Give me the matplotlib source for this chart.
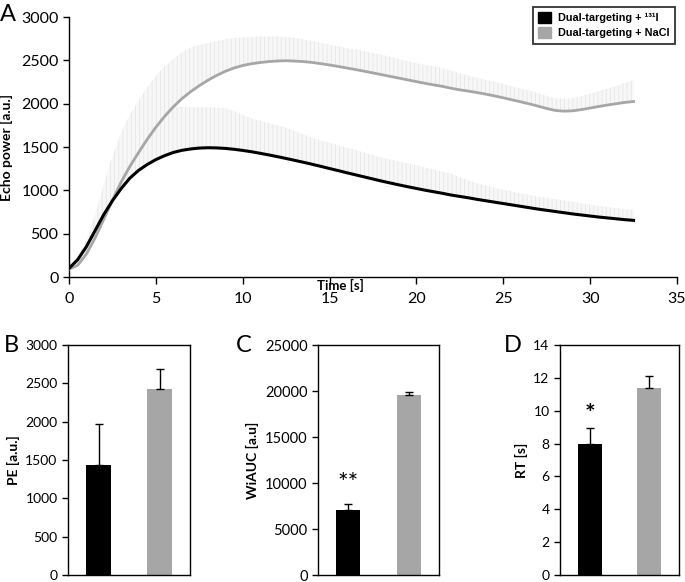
import numpy as np
import matplotlib
matplotlib.use("Agg")
import matplotlib.pyplot as plt
from matplotlib.patches import Patch

plt.rcParams['font.family'] = ['Lato', 'DejaVu Sans']
plt.rcParams['hatch.linewidth'] = 0.6

# ---------------- data ----------------
time_s = [0.0, 0.5, 1.0, 1.5, 2.0, 2.5, 3.0, 3.5, 4.0, 4.5, 5.0, 5.5, 6.0, 6.5, 7.0, 7.5,
          8.0, 8.5, 9.0, 9.5, 10.0, 10.5, 11.0, 11.5, 12.0, 12.5, 13.0, 13.5, 14.0, 14.5,
          15.0, 15.5, 16.0, 16.5, 17.0, 17.5, 18.0, 18.5, 19.0, 19.5, 20.0, 20.5, 21.0,
          21.5, 22.0, 22.5, 23.0, 23.5, 24.0, 24.5, 25.0, 25.5, 26.0, 26.5, 27.0, 27.5,
          28.0, 28.5, 29.0, 29.5, 30.0, 30.5, 31.0, 31.5, 32.0, 32.5]

echo_131I = [100, 200, 350, 535, 720, 880, 1020, 1140, 1230, 1298, 1355, 1400, 1437, 1462,
             1478, 1488, 1492, 1490, 1484, 1474, 1461, 1446, 1428, 1409, 1389, 1368, 1346,
             1324, 1301, 1277, 1252, 1228, 1203, 1179, 1155, 1131, 1107, 1085, 1063, 1042,
             1022, 1002, 984, 966, 946, 930, 914, 896, 880, 864, 848, 832, 816, 800, 784,
             770, 756, 742, 728, 716, 704, 692, 682, 672, 662, 654]
err_131I = [10, 40, 80, 130, 180, 240, 300, 360, 420, 480, 530, 540, 530, 500, 480, 470,
            465, 465, 465, 440, 410, 385, 375, 365, 360, 355, 340, 320, 305, 300, 295, 292,
            290, 285, 280, 275, 270, 270, 270, 270, 268, 262, 255, 250, 245, 225, 200, 185,
            175, 168, 160, 155, 150, 147, 145, 143, 142, 141, 140, 135, 130, 127, 125, 123,
            121, 120]

echo_NaCl = [90, 135, 265, 450, 665, 885, 1095, 1275, 1435, 1588, 1728, 1853, 1963, 2058,
             2138, 2208, 2271, 2326, 2374, 2412, 2441, 2461, 2475, 2486, 2493, 2496, 2492,
             2486, 2476, 2462, 2447, 2430, 2412, 2394, 2375, 2355, 2335, 2315, 2295, 2275,
             2255, 2235, 2217, 2200, 2178, 2160, 2145, 2128, 2110, 2090, 2068, 2045, 2022,
             1998, 1972, 1945, 1922, 1914, 1918, 1932, 1950, 1968, 1985, 2000, 2015, 2025]
err_NaCl = [10, 60, 150, 270, 400, 510, 570, 595, 600, 600, 590, 575, 550, 535, 510, 470,
            430, 395, 370, 345, 325, 310, 300, 290, 280, 275, 265, 255, 248, 240, 235, 232,
            230, 230, 230, 230, 230, 225, 220, 215, 212, 212, 215, 212, 205, 190, 178, 172,
            165, 160, 157, 155, 155, 153, 152, 145, 140, 140, 145, 155, 165, 178, 190, 205,
            225, 250]

groups = ["Dual-targeting + ¹³¹I", "Dual-targeting + NaCl"]
pe_values = [1430, 2420]
pe_err = [535, 265]
wiauc_values = [7100, 19600]
wiauc_err = [600, 300]
rt_values = [7.95, 11.4]
rt_err = [1.0, 0.7]

c_black = "black"
c_gray = "#a6a6a6"

fig = plt.figure(figsize=(6.85, 5.82), dpi=100)

# ---------------- panel A ----------------
axA = fig.add_axes([0.1007, 0.524, 0.8876, 0.4467])
t = np.array(time_s)
for mean, err in [(echo_NaCl, err_NaCl), (echo_131I, err_131I)]:
    m = np.array(mean)
    e = np.array(err)
    axA.fill_between(t, m, m + e, facecolor="#f7f7f7", edgecolor="#e6e6e6",
                     hatch="||||", linewidth=0, zorder=1)
axA.plot(t, echo_NaCl, color=c_gray, lw=2.0, zorder=3)
axA.plot(t, echo_131I, color=c_black, lw=2.2, zorder=4)
axA.set_xlim(0, 35)
axA.set_ylim(0, 3000)
axA.set_xticks(range(0, 36, 5))
axA.set_yticks(range(0, 3001, 500))
for s in ["top", "right"]:
    axA.spines[s].set_visible(False)
for s in ["left", "bottom"]:
    axA.spines[s].set_linewidth(1.0)
axA.tick_params(labelsize=11.5, width=1.0, length=4, direction="out")
axA.tick_params(axis="x", length=5, pad=6)
axA.set_xlabel("Time [s]", fontsize=9.5, fontweight="bold")
axA.xaxis.set_label_coords(0.447, -0.006)
axA.set_ylabel("Echo power [a.u.]", fontsize=10, fontweight="bold", labelpad=6)

handles = [Patch(facecolor=c_black, edgecolor=c_black), Patch(facecolor=c_gray, edgecolor=c_gray)]
leg = fig.legend(handles, groups, loc="upper right", bbox_to_anchor=(0.993, 0.998),
                 prop={"family": ["Liberation Sans", "DejaVu Sans"], "weight": "bold", "size": 7.8},
                 frameon=True, fancybox=False, edgecolor="black", handlelength=1.2,
                 handleheight=1.2, handletextpad=0.6, borderpad=0.5, labelspacing=0.35)
leg.get_frame().set_linewidth(1.3)

fig.text(0.0, 0.975, "A", fontsize=17, va="center", ha="left")

# ---------------- bar panels ----------------
xpos = [1, 2]

def bar_panel(rect, vals, errs, ylim, step, ylabel, letter, letter_x, fs):
    ax = fig.add_axes(rect)
    ax.bar(xpos, vals, width=0.4, color=[c_black, c_gray], zorder=2)
    ax.errorbar(xpos, vals, yerr=[[0, 0], errs], fmt="none", ecolor="black",
                elinewidth=1.0, capsize=3, capthick=1.0, zorder=3)
    ax.set_xlim(0.5, 2.5)
    ax.set_ylim(0, ylim)
    ax.set_yticks(np.arange(0, ylim + step / 2, step))
    ax.set_xticks([])
    for s in ax.spines.values():
        s.set_linewidth(1.0)
    ax.tick_params(axis="y", labelsize=fs, width=1.0, length=4, direction="out")
    ax.set_ylabel(ylabel, fontsize=10, fontweight="bold", labelpad=4)
    fig.text(letter_x, rect[1] + rect[3], letter, fontsize=17, va="center", ha="left")
    return ax

axB = bar_panel([0.0993, 0.0120, 0.1781, 0.3952], pe_values, pe_err, 3000, 500,
                "PE [a.u.]", "B", 0.006, 10)
axC = bar_panel([0.4642, 0.0120, 0.1766, 0.3952], wiauc_values, wiauc_err, 25000, 5000,
                "WiAUC [a.u]", "C", 0.345, 10.5)
axD = bar_panel([0.8175, 0.0120, 0.1737, 0.3952], rt_values, rt_err, 14, 2,
                "RT [s]", "D", 0.735, 10)

axC.text(xpos[0], 10000, "**", fontsize=18, ha="center", va="center")
axD.text(xpos[0], 9.8, "*", fontsize=18, ha="center", va="center", fontweight="bold")

fig.savefig("out.png", dpi=100)
